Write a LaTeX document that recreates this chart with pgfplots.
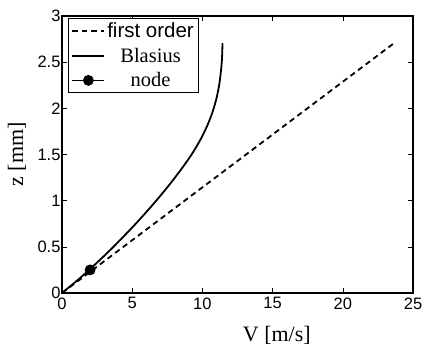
\documentclass[border=0pt]{standalone}
\usepackage{fontspec}
\setmainfont{Liberation Serif}
\setsansfont{Liberation Sans}
\usepackage{pgfplots}
\pgfplotsset{compat=1.18}
\begin{document}
\begin{tikzpicture}
\begin{axis}[
  scale only axis,
  width=351pt, height=277pt,
  xmin=0, xmax=25, ymin=0, ymax=3,
  xtick={0,5,10,15,20,25},
  ytick={0,0.5,1,1.5,2,2.5,3},
  yticklabels={0,0.5,1,1.5,2,2.5,3},
  xticklabels={0,5,10,15,20,25},
  tick align=inside,
  major tick length=5pt,
  tick style={black, line width=0.6pt},
  axis line style={black, line width=1.2pt},
  ticklabel style={font=\sffamily\fontsize{16.5}{18}\selectfont},
  xticklabel style={yshift=-1pt},
  yticklabel style={xshift=2pt},
  xlabel={V [m/s]},
  ylabel={z [mm]},
  xlabel style={font=\fontsize{22}{24}\selectfont, at={(axis description cs:0.612,0)}, anchor=center, yshift=-42pt},
  ylabel style={font=\fontsize{22}{24}\selectfont, at={(axis description cs:0,0.5)}, anchor=center, yshift=45pt},
  legend style={at={(axis description cs:0.017,0.993)}, anchor=north west,
    draw=black, line width=1pt, font=\fontsize{20.5}{22}\selectfont,
    row sep=5pt, inner xsep=3pt, inner ysep=2pt},
  legend cell align=center,
  legend image code/.code={\draw[mark repeat=2,mark phase=2,#1] plot coordinates {(0pt,0pt)(16pt,0pt)(32pt,0pt)};},
]
\addplot[black, line width=1.8pt, dash pattern=on 5.5pt off 4pt] coordinates {(0,0) (23.6,2.7)};
\addlegendentry{\sffamily first order}
\addplot[black, line width=1.8pt, smooth] coordinates {
(0,0) (1.19,0.15) (2.29,0.3) (3.33,0.45) (4.31,0.6) (5.25,0.75) (6.14,0.9) (6.99,1.05) (7.79,1.2) (8.54,1.35) (9.23,1.5) (9.82,1.65) (10.31,1.8) (10.70,1.95) (10.99,2.1) (11.19,2.25) (11.32,2.4) (11.40,2.55) (11.43,2.705)};
\addlegendentry{Blasius}
\addplot[black, line width=0.8pt, mark=*, mark size=5pt, mark options={line width=0.8pt}] coordinates {(2,0.25)};
\addlegendentry{node}
\end{axis}
\pgfresetboundingbox
\path[use as bounding box] (current axis.south west) ++(-62pt,-54pt) rectangle ([xshift=12pt,yshift=16pt]current axis.north east);
\end{tikzpicture}
\end{document}
